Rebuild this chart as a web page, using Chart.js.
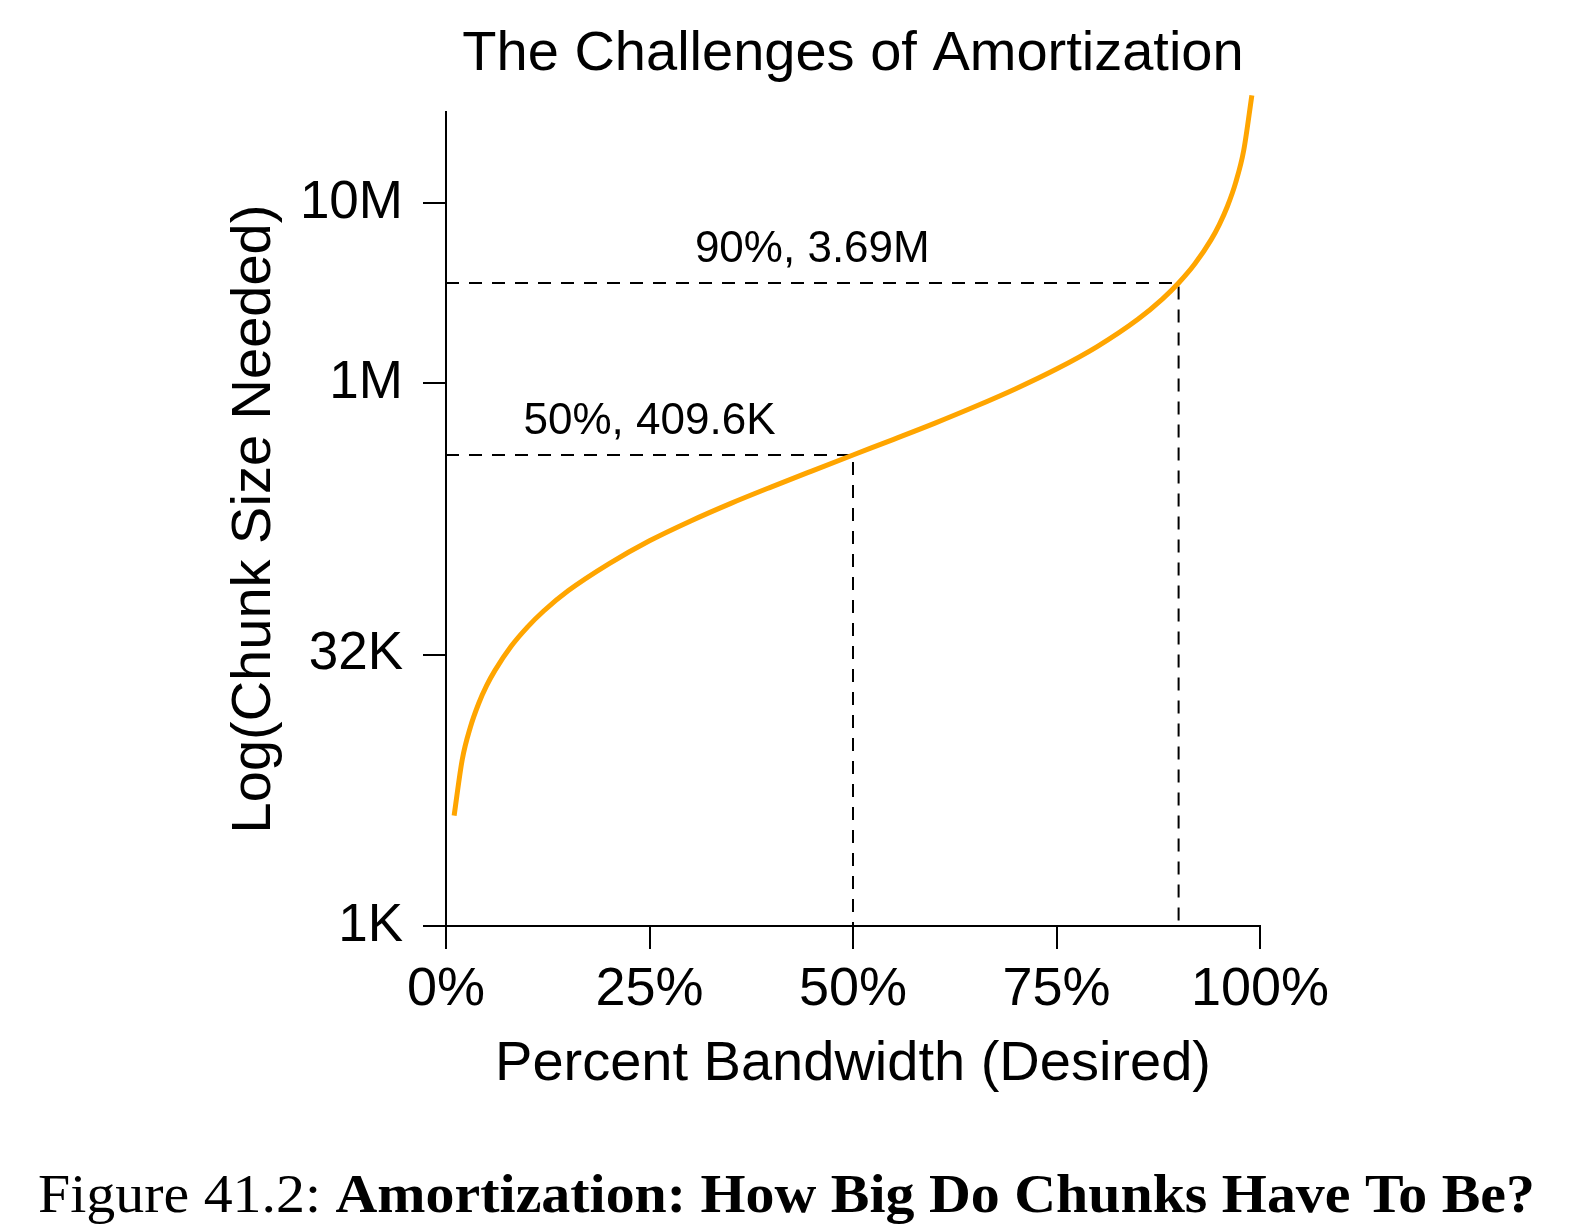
<!DOCTYPE html>
<html>
<head>
<meta charset="utf-8">
<title>The Challenges of Amortization</title>
<script src="https://cdn.jsdelivr.net/npm/chart.js@4.4.1/dist/chart.umd.min.js"></script>
<style>
  html, body { margin: 0; padding: 0; background: #fff; overflow: hidden; }
  canvas { display: block; }
</style>
</head>
<body>
<canvas id="amortChart" width="1589" height="1227"></canvas>
<script>
// percent bandwidth desired (x) vs chunk size needed in K (y)
var bandwidthPct = [1, 2, 3, 4, 5, 6, 8, 10, 12, 15, 20, 25, 30, 35, 40, 45, 50,
    55, 60, 65, 70, 75, 80, 85, 88, 90, 92, 94, 95, 96, 97, 98, 99];
var chunkSizeK = [4.1, 8.4, 12.7, 17.1, 21.6, 26.1, 35.6, 45.5, 55.9, 72.3, 102, 137, 176, 221, 273, 335, 410,
    501, 614, 761, 956, 1229, 1638, 2321, 3004, 3686, 4710, 6417, 7782, 9830, 13244, 20070, 40550];

var xTickValues = [0, 25, 50, 75, 100];
var xTickLabels = ['0%', '25%', '50%', '75%', '100%'];
var yTickValues = [1, 32, 1024, 10240];
var yTickLabels = ['1K', '32K', '1M', '10M'];

// the two marked points with their dashed guides
var markPct = [50, 90];
var markSizeK = [409.6, 3686];
var markLabels = ['50%, 409.6K', '90%, 3.69M'];

var SANS = '"Liberation Sans", Arial, Helvetica, sans-serif';
var SERIF = '"Liberation Serif", "Times New Roman", serif';

function curvePoints() {
    var pts = [];
    for (var i = 0; i < bandwidthPct.length; i++) {
        pts.push({ x: bandwidthPct[i], y: chunkSizeK[i] });
    }
    return pts;
}

function guideDataset(i) {
    return {
        data: [
            { x: 0, y: markSizeK[i] },
            { x: markPct[i], y: markSizeK[i] },
            { x: markPct[i], y: yTickValues[0] }
        ],
        borderColor: '#000',
        borderWidth: 2,
        borderDash: [13, 10],
        pointRadius: 0,
        tension: 0,
        order: 1
    };
}

var figureText = {
    id: 'figureText',
    afterDraw: function(chart) {
        var ctx = chart.ctx;
        var area = chart.chartArea;
        var xs = chart.scales.x;
        var ys = chart.scales.y;
        var cx = (area.left + area.right) / 2;

        ctx.save();
        ctx.fillStyle = '#000';
        ctx.textAlign = 'center';
        ctx.textBaseline = 'alphabetic';

        ctx.font = '56px ' + SANS;
        ctx.fillText('The Challenges of Amortization', cx, 70);
        ctx.fillText('Percent Bandwidth (Desired)', cx, 1080);

        ctx.save();
        ctx.translate(270, (area.top + area.bottom) / 2);
        ctx.rotate(-Math.PI / 2);
        ctx.fillText('Log(Chunk Size Needed)', 0, 0);
        ctx.restore();

        // labels above the dashed guides
        ctx.font = '44px ' + SANS;
        for (var i = 0; i < markPct.length; i++) {
            var lx = xs.getPixelForValue(markPct[i] / 2);
            var ly = ys.getPixelForValue(markSizeK[i]);
            ctx.fillText(markLabels[i], lx, ly - 21);
        }

        // figure caption, regular + bold part
        var capA = 'Figure 41.2: ';
        var capB = 'Amortization: How Big Do Chunks Have To Be?';
        var fA = '55px ' + SERIF;
        var fB = 'bold 55px ' + SERIF;
        ctx.textAlign = 'left';
        ctx.font = fA;
        var wA = ctx.measureText(capA).width;
        ctx.font = fB;
        var wB = ctx.measureText(capB).width;
        var sx = 1497 / (wA + wB);
        ctx.translate(38, 1212);
        ctx.scale(sx, 1);
        ctx.font = fA;
        ctx.fillText(capA, 0, 0);
        ctx.font = fB;
        ctx.fillText(capB, wA, 0);
        ctx.restore();
    }
};

var datasets = [{
    data: curvePoints(),
    borderColor: '#FFA500',
    borderWidth: 5,
    pointRadius: 0,
    cubicInterpolationMode: 'monotone',
    clip: false,
    order: 0
}];
for (var m = 0; m < markPct.length; m++) datasets.push(guideDataset(m));

new Chart(document.getElementById('amortChart'), {
    type: 'line',
    data: { datasets: datasets },
    options: {
        responsive: false,
        animation: false,
        layout: { padding: { left: 0, top: 112, right: 329, bottom: 201 } },
        plugins: {
            legend: { display: false },
            tooltip: { enabled: false },
            title: { display: false }
        },
        scales: {
            x: {
                type: 'linear',
                min: 0,
                max: 100,
                afterBuildTicks: function(s) {
                    s.ticks = xTickValues.map(function(v) { return { value: v }; });
                },
                afterFit: function(s) { s.height = 100; },
                grid: { drawOnChartArea: false, drawTicks: true, tickLength: 23, lineWidth: 2, tickWidth: 2, tickColor: '#000', color: '#000' },
                border: { display: true, color: '#000', width: 2 },
                ticks: {
                    autoSkip: false,
                    maxRotation: 0,
                    padding: 9,
                    color: '#000',
                    font: { family: SANS, size: 54 },
                    callback: function(v) {
                        var i = xTickValues.indexOf(v);
                        return i >= 0 ? xTickLabels[i] : '';
                    }
                }
            },
            y: {
                type: 'logarithmic',
                min: 1,
                max: 32768,
                afterBuildTicks: function(s) {
                    s.ticks = yTickValues.map(function(v) { return { value: v }; });
                },
                afterFit: function(s) { s.width = 446; },
                grid: { drawOnChartArea: false, drawTicks: true, tickLength: 23, lineWidth: 2, tickWidth: 2, tickColor: '#000', color: '#000' },
                border: { display: true, color: '#000', width: 2 },
                ticks: {
                    autoSkip: false,
                    padding: 20,
                    color: '#000',
                    font: { family: SANS, size: 53 },
                    callback: function(v) {
                        var i = yTickValues.indexOf(v);
                        return i >= 0 ? yTickLabels[i] : '';
                    }
                }
            }
        }
    },
    plugins: [figureText]
});
</script>
</body>
</html>
